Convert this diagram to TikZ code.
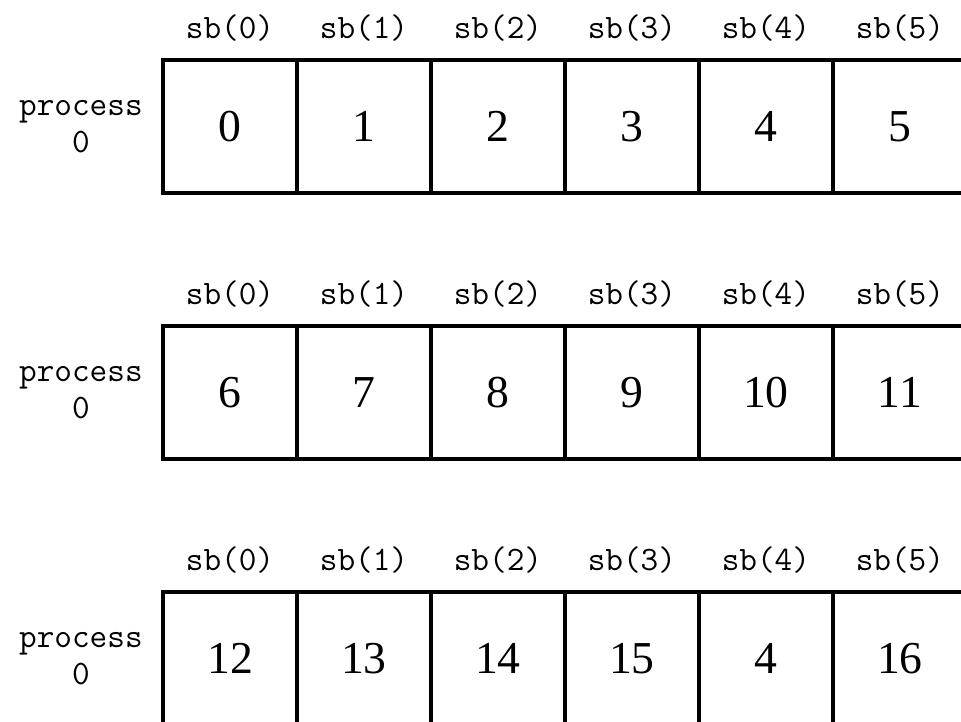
\documentclass[tikz,border=0pt]{standalone}
\usepackage{fontspec}
\setmainfont{Liberation Serif}
\usetikzlibrary{positioning}

\begin{document}
\begin{tikzpicture}[x=0.02cm, y=0.02cm,
    cell/.style={draw, line width=0.09cm, outer sep=0pt, inner sep=0pt, minimum width=2.68cm, minimum height=2.66cm, font=\fontsize{26}{30}\selectfont},
    sbl/.style={inner sep=0pt, font=\ttfamily\fontsize{19.5}{21}\selectfont},
    proc/.style={inner sep=0pt, align=center, font=\ttfamily\fontsize{19.5}{21}\selectfont}
]
\useasboundingbox (0,0) rectangle (961,-722);
\clip (0,0) rectangle (961,-722);

% first row
\node[cell] (a0) at (230,-126.5) {0};
\node[cell, right=0pt of a0] (a1) {1};
\node[cell, right=0pt of a1] (a2) {2};
\node[cell, right=0pt of a2] (a3) {3};
\node[cell, right=0pt of a3] (a4) {4};
\node[cell, right=0pt of a4] (a5) {5};
\node[proc, left=0.4cm of a0] (pa) {process\\0};
\node[sbl, above=0.36cm of a0] (sa0) {sb(0)};
\node[sbl, above=0.36cm of a1] (sa1) {sb(1)};
\node[sbl, above=0.36cm of a2] (sa2) {sb(2)};
\node[sbl, above=0.36cm of a3] (sa3) {sb(3)};
\node[sbl, above=0.36cm of a4] (sa4) {sb(4)};
\node[sbl, above=0.36cm of a5] (sa5) {sb(5)};

% second row
\node[cell] (b0) at (230,-392.5) {6};
\node[cell, right=0pt of b0] (b1) {7};
\node[cell, right=0pt of b1] (b2) {8};
\node[cell, right=0pt of b2] (b3) {9};
\node[cell, right=0pt of b3] (b4) {10};
\node[cell, right=0pt of b4] (b5) {11};
\node[proc, left=0.4cm of b0] (pb) {process\\0};
\node[sbl, above=0.36cm of b0] (sb0) {sb(0)};
\node[sbl, above=0.36cm of b1] (sb1) {sb(1)};
\node[sbl, above=0.36cm of b2] (sb2) {sb(2)};
\node[sbl, above=0.36cm of b3] (sb3) {sb(3)};
\node[sbl, above=0.36cm of b4] (sb4) {sb(4)};
\node[sbl, above=0.36cm of b5] (sb5) {sb(5)};

% third row
\node[cell] (c0) at (230,-658.5) {12};
\node[cell, right=0pt of c0] (c1) {13};
\node[cell, right=0pt of c1] (c2) {14};
\node[cell, right=0pt of c2] (c3) {15};
\node[cell, right=0pt of c3] (c4) {4};
\node[cell, right=0pt of c4] (c5) {16};
\node[proc, left=0.4cm of c0] (pc) {process\\0};
\node[sbl, above=0.36cm of c0] (sc0) {sb(0)};
\node[sbl, above=0.36cm of c1] (sc1) {sb(1)};
\node[sbl, above=0.36cm of c2] (sc2) {sb(2)};
\node[sbl, above=0.36cm of c3] (sc3) {sb(3)};
\node[sbl, above=0.36cm of c4] (sc4) {sb(4)};
\node[sbl, above=0.36cm of c5] (sc5) {sb(5)};
\end{tikzpicture}
\end{document}
